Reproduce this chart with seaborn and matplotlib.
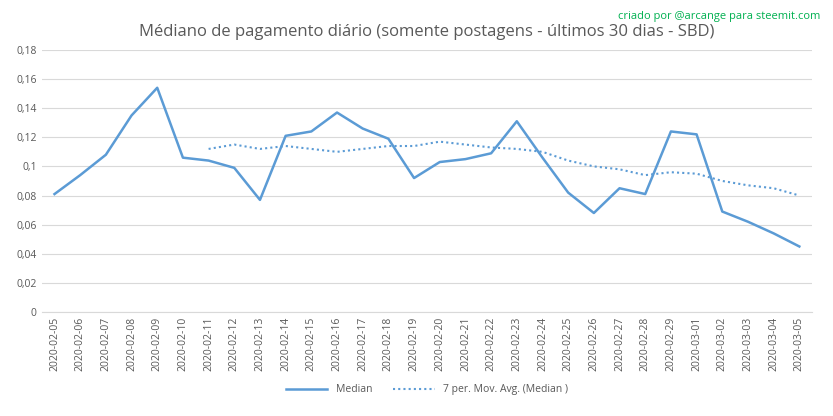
import pandas as pd
import numpy as np
import seaborn as sns
import matplotlib.pyplot as plt

dates = pd.date_range("2020-02-05", "2020-03-05").strftime("%Y-%m-%d").tolist()
median = [0.081, 0.094, 0.108, 0.135, 0.154, 0.106, 0.104, 0.099, 0.077, 0.121,
          0.124, 0.137, 0.126, 0.119, 0.092, 0.103, 0.105, 0.109, 0.131, 0.106,
          0.082, 0.068, 0.085, 0.081, 0.124, 0.122, 0.069, 0.062, 0.054, 0.045]
mov_avg = [np.nan] * 6 + [0.112, 0.115, 0.112, 0.114, 0.112, 0.110, 0.112, 0.114,
                          0.114, 0.117, 0.115, 0.113, 0.112, 0.110, 0.104, 0.100,
                          0.098, 0.094, 0.096, 0.095, 0.090, 0.087, 0.085, 0.080]
ytick_labels = ["0", "0,02", "0,04", "0,06", "0,08", "0,1", "0,12", "0,14", "0,16", "0,18"]

df = pd.DataFrame({"date": dates, "Median": median, "ma": mov_avg})
df["x"] = range(len(df))

plt.rcParams["font.family"] = "Open Sans"
fig, ax = plt.subplots(figsize=(8.33, 4.16), dpi=100)
blue = "#5b9bd5"

sns.lineplot(data=df, x="x", y="Median", ax=ax, color=blue, linewidth=1.8, label="Median")
sns.lineplot(data=df, x="x", y="ma", ax=ax, color=blue, linewidth=1.5,
             linestyle=(0, (1, 1.5)), label="7 per. Mov. Avg. (Median )")

ax.set_ylim(0, 0.18)
ax.set_xlim(-0.5, len(df) - 0.5)
ax.set_yticks(np.linspace(0, 0.18, 10))
ax.set_yticklabels(ytick_labels)
ax.set_xticks(df["x"])
ax.set_xticklabels(df["date"], rotation=90)
ax.tick_params(axis="both", labelsize=7.5, colors="#595959", length=0)
ax.grid(axis="y", color="#d9d9d9", linewidth=0.8)
ax.set_axisbelow(True)
for s in ["top", "right", "left"]:
    ax.spines[s].set_visible(False)
ax.spines["bottom"].set_color("#d9d9d9")
ax.set_xlabel("")
ax.set_ylabel("")

ax.set_title("Médiano de pagamento diário (somente postagens - últimos 30 dias - SBD)",
             fontsize=12, color="#595959", pad=10)
fig.text(0.985, 0.955, "criado por @arcange para steemit.com", ha="right",
         fontsize=8, color="#00b050")
ax.legend(loc="upper center", bbox_to_anchor=(0.5, -0.24), ncol=2, frameon=False,
          fontsize=7.5, labelcolor="#595959", handlelength=4)

fig.subplots_adjust(left=0.05, right=0.975, top=0.88, bottom=0.25)
fig.savefig("out.png")
